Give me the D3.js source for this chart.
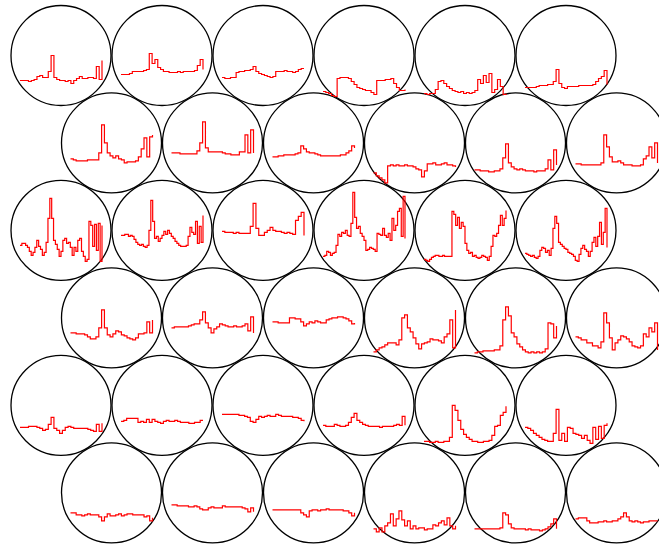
<!DOCTYPE html>
<html>
<head>
<meta charset="utf-8">
<script src="https://cdn.jsdelivr.net/npm/d3@7"></script>
<style>
  html, body { margin: 0; padding: 0; background: #fff; }
  svg { display: block; }
</style>
</head>
<body>
<svg id="chart" width="659" height="546"></svg>
<script>
// Sparkline values, one array of six series per row of the honeycomb.
const row0 = [
  [25,25,25,24,25,26,29,30,28,28,34,50,28,26,25,25,24,25,22,25,27,29,27,27,28,28,27,39,26,45],
  [31,31,31,32,34,34,34,34,35,36,52,42,46,38,36,34,34,33,33,33,34,33,34,34,34,34,35,40,46,36],
  [28,27,27,28,28,33,34,34,35,35,36,39,34,32,31,30,29,28,29,34,34,34,35,34,34,33,34,36,37,37],
  [14,13,12,10,9,27,28,28,28,27,24,21,18,17,16,15,15,13,11,25,25,25,26,26,27,22,18,15,15,16],
  [12,11,12,12,16,24,25,22,19,17,15,14,13,14,12,13,12,13,15,26,22,30,23,32,13,16,26,19,11,12],
  [18,18,18,18,19,20,20,20,21,21,24,36,22,18,17,19,19,19,19,20,20,20,20,20,21,24,27,29,35,21]
];
const row1 = [
  [34,33,32,32,32,32,33,33,33,33,40,68,50,40,37,35,37,34,33,30,31,31,31,32,36,44,55,36,56,58],
  [40,40,40,39,39,39,39,39,39,42,50,71,45,41,41,41,41,41,40,39,39,38,38,38,41,41,58,40,63,40],
  [36,36,37,37,38,38,38,38,39,40,47,44,41,40,40,39,38,37,37,37,37,37,37,37,38,38,40,42,47,45],
  [20,17,15,13,10,27,28,27,28,27,27,28,27,27,26,24,23,16,22,29,29,30,28,28,29,30,28,28,27,26],
  [23,23,22,22,22,21,21,22,22,24,35,49,30,26,24,23,24,23,22,22,22,21,22,22,22,24,33,23,43,28],
  [29,29,28,28,28,28,28,28,28,30,58,46,36,31,31,32,30,28,28,28,27,27,27,28,34,37,46,35,50,30]
];
const row2 = [
  [35,37,37,35,33,29,25,28,33,40,34,31,25,28,38,62,82,62,40,36,31,24,29,40,42,37,38,33,25,33,29,40,42,29,24,19,21,59,55,34,56,30,57,19,55],
  [45,45,46,46,44,45,44,41,38,36,35,36,34,33,35,50,80,59,42,44,39,42,45,49,46,50,47,44,42,39,37,35,34,34,34,35,44,53,48,46,59,37,54,38,65],
  [49,48,48,48,47,48,47,47,47,47,54,77,52,45,45,48,50,53,50,49,49,48,47,48,47,46,60,64,68,45],
  [24,25,29,28,25,27,28,35,46,44,48,47,50,45,44,57,88,63,52,54,47,44,40,30,31,33,32,31,29,47,46,45,52,45,43,47,40,62,50,55,69,72,44,84,42],
  [21,20,19,21,23,24,25,25,24,24,25,24,24,24,24,69,66,55,63,52,58,54,37,30,27,28,24,25,23,22,23,25,24,23,20,24,34,45,44,47,55,65,55,62,70],
  [27,26,25,24,25,23,22,24,30,33,32,28,30,25,32,52,64,57,38,36,34,32,31,28,27,26,24,20,19,26,32,35,31,29,24,29,38,43,34,44,58,36,48,72,33]
];
const row3 = [
  [35,35,34,34,34,33,31,29,29,31,40,58,40,33,31,34,37,36,33,32,30,29,28,30,34,34,35,46,35,48],
  [40,41,41,41,41,41,42,43,44,44,48,56,45,40,35,39,41,44,43,42,41,41,42,41,41,42,44,37,51,35],
  [46,46,45,45,45,45,50,50,49,49,46,42,44,46,45,47,46,45,45,48,49,50,50,51,51,50,49,47,44,45],
  [16,18,20,21,23,25,25,25,23,28,50,53,40,36,30,24,19,24,25,26,29,28,28,27,25,31,34,48,20,58],
  [15,16,16,17,17,17,17,18,18,22,48,61,52,35,31,24,21,18,16,15,16,15,16,15,16,19,45,44,30,42],
  [31,30,28,28,25,25,22,22,20,26,55,45,30,18,25,28,32,31,29,26,22,21,20,22,34,31,40,36,45,18]
];
const row4 = [
  [28,28,28,29,29,29,28,27,25,26,31,38,27,25,22,25,28,29,28,27,27,27,27,27,26,25,24,31,24,32],
  [34,35,37,37,37,37,33,34,33,36,33,36,34,33,32,34,35,34,34,35,34,33,33,33,32,32,33,33,35,35],
  [41,41,41,41,41,41,40,40,39,38,34,33,36,39,38,39,40,39,39,41,40,39,39,39,39,38,38,37,35,34],
  [30,29,29,29,31,30,29,29,30,33,38,42,35,33,31,30,29,29,29,29,28,29,29,29,29,30,31,30,39,30],
  [14,14,13,13,14,13,13,14,14,18,50,45,35,26,21,18,16,14,14,13,13,14,14,15,20,29,30,40,43,49],
  [28,27,25,22,20,18,16,15,14,14,22,46,15,22,14,28,27,22,21,20,17,20,15,12,28,16,29,17,30,32]
];
const row5 = [
  [30,30,28,28,27,28,29,28,28,28,26,22,26,29,27,27,28,29,27,28,29,29,28,28,28,28,26,27,22,25],
  [38,38,37,37,37,37,36,36,37,36,34,33,33,35,36,35,35,35,37,36,36,36,36,36,36,35,34,31,35,31],
  [33,33,33,33,33,33,33,33,33,33,30,28,26,32,33,33,32,33,33,34,33,33,33,33,33,32,32,30,27,30],
  [14,11,15,11,17,20,29,17,24,32,23,17,22,14,17,14,15,15,13,14,14,18,17,20,22,18,25,17,14,17],
  [14,14,14,14,14,14,14,14,14,15,30,28,19,15,14,14,14,14,13,14,13,13,13,12,13,14,16,19,24,14],
  [24,25,25,25,22,20,20,20,21,21,22,21,21,22,22,24,26,30,26,22,21,22,21,20,21,21,22,22,22,22]
];

const rows = [row0, row1, row2, row3, row4, row5];

const svg = d3.select("#chart");

const radius = 50;
const pitch = 101;                       // distance between neighbouring centres
const rowStep = pitch * Math.sqrt(3) / 2;
const originX = 61, originY = 55.5;

// Flatten rows into cells laid out on a hexagonal grid
const cells = [];
rows.forEach((row, r) => {
  row.forEach((values, c) => {
    cells.push({
      cx: originX + c * pitch + (r % 2 ? pitch / 2 : 0),
      cy: originY + r * rowStep,
      values
    });
  });
});

const halfWidth = 41;
const y = d3.scaleLinear().domain([0, 100]).range([radius, -radius]);

function sparkline(values) {
  const x = d3.scaleLinear().domain([0, values.length - 1]).range([-halfWidth, halfWidth]);
  return d3.line()
    .x((d, i) => x(i))
    .y(d => y(d))
    .curve(d3.curveStepAfter)(values);
}

// Circle outlines first, then all sparklines on top
svg.append("g")
  .selectAll("circle")
  .data(cells)
  .join("circle")
  .attr("cx", d => d.cx)
  .attr("cy", d => d.cy)
  .attr("r", radius)
  .attr("fill", "none")
  .attr("stroke", "#000")
  .attr("stroke-width", 1.3);

svg.append("g")
  .selectAll("path")
  .data(cells)
  .join("path")
  .attr("transform", d => `translate(${d.cx},${d.cy})`)
  .attr("d", d => sparkline(d.values))
  .attr("fill", "none")
  .attr("stroke", "red")
  .attr("stroke-width", 1.2);
</script>
</body>
</html>
